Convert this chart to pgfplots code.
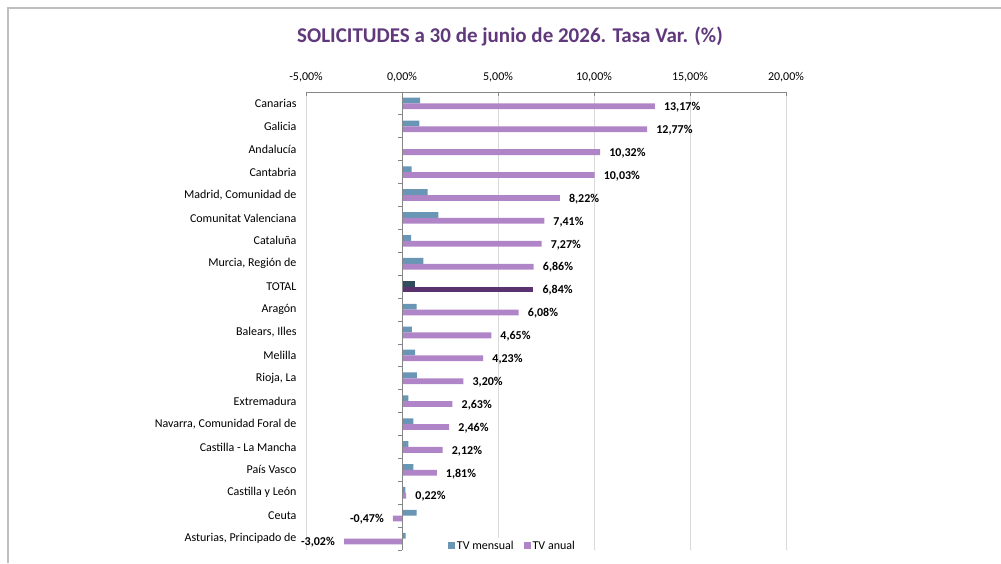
\documentclass[border=0pt]{standalone}
\usepackage{pgfplots}
\pgfplotsset{compat=1.18}
\usepackage{fontspec}
\setmainfont{Carlito}
\definecolor{mens}{RGB}{105,150,180}
\definecolor{anu}{RGB}{176,133,200}
\definecolor{mensT}{RGB}{50,75,92}
\definecolor{anuT}{RGB}{90,50,112}
\definecolor{titc}{RGB}{96,56,124}
\definecolor{framec}{RGB}{191,191,191}
\definecolor{gridc}{RGB}{217,217,217}
\definecolor{axc}{RGB}{134,134,134}
\begin{document}
\begin{tikzpicture}[font=\fontsize{12}{14}\selectfont]
\useasboundingbox (0pt,0pt) rectangle (1001pt,563pt);
\draw[framec, line width=1.2pt] (8pt,0pt) -- (8pt,555pt) -- (1001pt,555pt);
\node[font=\fontsize{21}{24}\selectfont\bfseries, text=titc] at (510pt,527pt) {SOLICITUDES a 30 de junio de 2026. Tasa Var. (\%)};
\begin{axis}[
  at={(306pt,13pt)}, anchor=south west,
  width=480pt, height=458pt, scale only axis,
  xmin=-5, xmax=20, ymin=-0.5, ymax=19.5,
  xbar, bar width=5.8pt,
  axis x line*=top, axis y line*=left,
  x axis line style={-, axc, line width=0.8pt},
  y axis line style={draw=none},
  xtick={-5,0,5,10,15,20},
  xticklabels={{-5,00\%},{0,00\%},{5,00\%},{10,00\%},{15,00\%},{20,00\%}},
  tick align=inside,
  x tick style={axc, line width=0.8pt},
  major tick length=4pt,
  xticklabel style={yshift=6pt},
  xmajorgrids, grid style={gridc, line width=0.8pt},
  ytick={0,...,19},
  yticklabels={{Asturias, Principado de},Ceuta,Castilla y León,País Vasco,Castilla - La Mancha,{Navarra, Comunidad Foral de},Extremadura,{Rioja, La},Melilla,{Balears, Illes},Aragón,TOTAL,{Murcia, Región de},Cataluña,Comunitat Valenciana,{Madrid, Comunidad de},Cantabria,Andalucía,Galicia,Canarias},
  y tick style={draw=none},
  yticklabel style={xshift=-6pt},
  legend style={at={(rel axis cs:0.43,0.009)}, anchor=center, draw=none, fill=white, legend columns=2, font=\fontsize{12}{14}\selectfont, /tikz/every even column/.append style={column sep=8pt}, inner sep=1pt},
  legend image code/.code={\fill[#1] (0pt,-3.5pt) rectangle (7pt,3.5pt);},
  clip=false,
]
\addplot[fill=mens, draw=none, bar shift=2.9pt] coordinates {
 (0.94,19) (0.90,18) (0.03,17) (0.50,16) (1.33,15) (1.89,14) (0.47,13) (1.11,12)
 (0.76,10) (0.52,9) (0.68,8) (0.78,7) (0.33,6) (0.59,5) (0.33,4) (0.59,3) (0.17,2) (0.76,1) (0.19,0)};
\addlegendentry{TV mensual}
\addplot[fill=anu, draw=none, bar shift=-2.9pt,
  point meta=x,
  nodes near coords={\pgfmathprintnumber[assume math mode=true,fixed,fixed zerofill,precision=2,use comma]{\pgfplotspointmeta}\%},
  nodes near coords align={horizontal},
  every node near coord/.append style={font=\fontsize{12}{14}\selectfont\bfseries, inner xsep=9pt, text=black, yshift=-1pt}] coordinates {
 (13.17,19) (12.77,18) (10.32,17) (10.03,16) (8.22,15) (7.41,14) (7.27,13) (6.86,12)
 (6.08,10) (4.65,9) (4.23,8) (3.20,7) (2.63,6) (2.46,5) (2.12,4) (1.81,3) (0.22,2) (-0.47,1) (-3.02,0)};
\addlegendentry{TV anual}
\addplot[fill=mensT, draw=none, bar shift=2.9pt, forget plot] coordinates {(0.68,11)};
\addplot[fill=anuT, draw=none, bar shift=-2.9pt, forget plot,
  point meta=x,
  nodes near coords={\pgfmathprintnumber[assume math mode=true,fixed,fixed zerofill,precision=2,use comma]{\pgfplotspointmeta}\%},
  nodes near coords align={horizontal},
  every node near coord/.append style={font=\fontsize{12}{14}\selectfont\bfseries, inner xsep=9pt, text=black, yshift=-1pt}] coordinates {(6.84,11)};
\draw[axc, line width=0.8pt] (axis cs:0,-0.5) -- (axis cs:0,19.5);
\pgfplotsinvokeforeach{-0.5,0.5,1.5,2.5,3.5,4.5,5.5,6.5,7.5,8.5,9.5,10.5,11.5,12.5,13.5,14.5,15.5,16.5,17.5,18.5,19.5}{\draw[axc, line width=0.8pt] (axis cs:0,#1) -- ([xshift=-4pt]axis cs:0,#1);}
\end{axis}
\end{tikzpicture}
\end{document}
